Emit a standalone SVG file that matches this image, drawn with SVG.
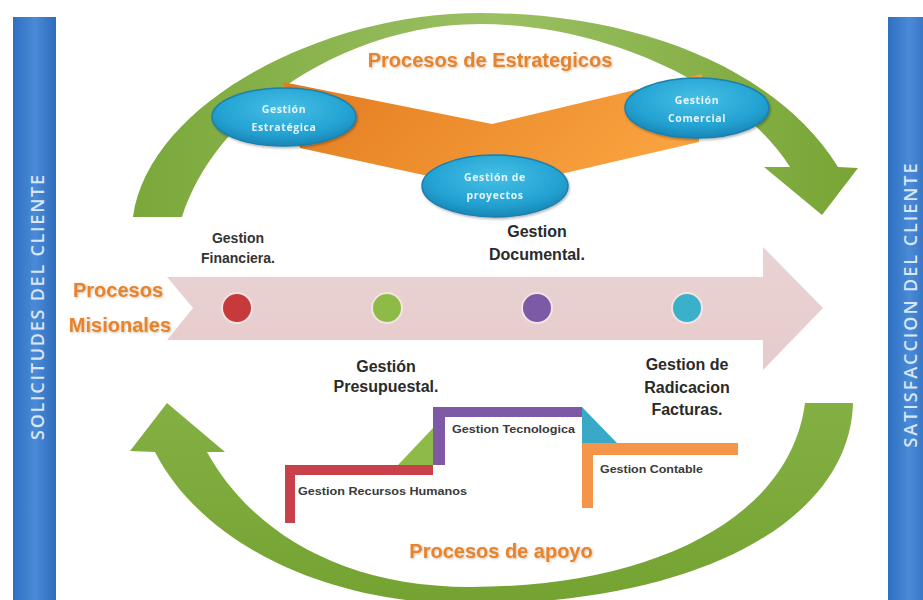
<svg xmlns="http://www.w3.org/2000/svg" width="923" height="600" viewBox="0 0 923 600">
  <defs>
    <linearGradient id="barGrad" x1="0" y1="0" x2="1" y2="0">
      <stop offset="0" stop-color="#2d6fc2"/>
      <stop offset="0.5" stop-color="#4a8ad6"/>
      <stop offset="1" stop-color="#2e6cbd"/>
    </linearGradient>
    <linearGradient id="greenTop" x1="0" y1="0" x2="1" y2="0">
      <stop offset="0" stop-color="#7aa83a"/>
      <stop offset="0.5" stop-color="#9bc063"/>
      <stop offset="1" stop-color="#78a535"/>
    </linearGradient>
    <linearGradient id="greenBottom" x1="0" y1="0" x2="0" y2="1">
      <stop offset="0" stop-color="#84b043"/>
      <stop offset="1" stop-color="#74a332"/>
    </linearGradient>
    <linearGradient id="orangeGrad" x1="0" y1="0" x2="1" y2="0.3">
      <stop offset="0" stop-color="#e27a1f"/>
      <stop offset="1" stop-color="#f9a23e"/>
    </linearGradient>
    <linearGradient id="pinkGrad" x1="0" y1="0" x2="0" y2="1">
      <stop offset="0" stop-color="#ead2d3"/>
      <stop offset="1" stop-color="#e6cbcc"/>
    </linearGradient>
    <radialGradient id="ellGrad" cx="0.5" cy="0.35" r="0.65">
      <stop offset="0" stop-color="#45c0e6"/>
      <stop offset="0.7" stop-color="#23a2d2"/>
      <stop offset="1" stop-color="#1a86b6"/>
    </radialGradient>
    <filter id="soft" x="-10%" y="-10%" width="120%" height="130%">
      <feDropShadow dx="1" dy="1.5" stdDeviation="1.2" flood-color="#000" flood-opacity="0.3"/>
    </filter>
    <filter id="txtShadow" x="-5%" y="-20%" width="110%" height="150%">
      <feDropShadow dx="1" dy="1" stdDeviation="0.8" flood-color="#7a4a1a" flood-opacity="0.35"/>
    </filter>
  </defs>
  <style>
    .bar { fill: url(#barGrad); }
    .side { font-family: "Open Sans", "DejaVu Sans", sans-serif; font-size: 18px; font-weight: 600; fill: #d8e6f8; text-anchor: middle; }
    .title { font-family: "Liberation Sans", Arial, sans-serif; font-size: 20px; font-weight: bold; fill: #e8832c; text-anchor: middle; }
    .ell { fill: url(#ellGrad); stroke: #1b7fae; stroke-width: 1.5; }
    .ellTxt { font-family: "Open Sans", "DejaVu Sans", sans-serif; font-size: 10.5px; font-weight: bold; fill: #e6f4fb; text-anchor: middle; letter-spacing: 0.6px; }
    .lbl { font-family: "Liberation Sans", Arial, sans-serif; font-size: 16px; font-weight: bold; fill: #2a2a2a; text-anchor: middle; }
    .lblS { font-family: "Liberation Sans", Arial, sans-serif; font-size: 14px; font-weight: bold; fill: #333; text-anchor: middle; }
    .step { font-family: "Liberation Sans", Arial, sans-serif; font-size: 10.5px; font-weight: bold; fill: #3a3a3a; }
    .dot { stroke: #f4e4e4; stroke-width: 2; }
  </style>

  <rect width="923" height="600" fill="#ffffff"/>

  <!-- side bars -->
  <g id="solicitudes">
    <rect class="bar" x="13" y="17" width="43" height="583"/>
    <text class="side" transform="translate(43.5,307.5) rotate(-90)" textLength="265" lengthAdjust="spacing">SOLICITUDES DEL CLIENTE</text>
  </g>
  <g id="satisfaccion">
    <rect class="bar" x="888" y="17" width="43" height="583"/>
    <text class="side" transform="translate(916.5,305.5) rotate(-90)" textLength="284" lengthAdjust="spacing">SATISFACCION  DEL CLIENTE</text>
  </g>

  <!-- connectors: the two cycle arrows -->
  <g id="connectors">
    <path fill="url(#greenTop)" d="M133 217 C148 105 320 13 480 13 C630 13 775 65 838 167 L858 168 L822 215 L764 167 L790 167 C738 85 605 24 480 24 C345 24 215 112 182 217 Z"/>
    <path fill="url(#greenBottom)" d="M853 403 C850 520 700 604 470 604 C320 604 200 540 155 452 L130 451 L167 403 L225 452 L207 452 C250 530 340 587 470 587 C650 587 790 520 805 403 Z"/>
  </g>

  <!-- strategic processes -->
  <g id="estrategicos">
    <polygon fill="url(#orangeGrad)" points="283,82 492,124 702,74 699,142 492,190 300,148"/>
    <text class="title" x="490" y="67" filter="url(#txtShadow)">Procesos de Estrategicos</text>
  </g>
  <g id="gestion-estrategica" filter="url(#soft)">
    <ellipse class="ell" cx="284" cy="117" rx="72" ry="29"/>
    <text class="ellTxt" x="284" y="113">Gestión</text>
    <text class="ellTxt" x="284" y="131">Estratégica</text>
  </g>
  <g id="gestion-comercial" filter="url(#soft)">
    <ellipse class="ell" cx="697" cy="108" rx="72" ry="30"/>
    <text class="ellTxt" x="697" y="104">Gestión</text>
    <text class="ellTxt" x="697" y="122">Comercial</text>
  </g>
  <g id="gestion-proyectos" filter="url(#soft)">
    <ellipse class="ell" cx="495" cy="186" rx="73" ry="31"/>
    <text class="ellTxt" x="495" y="181">Gestión de</text>
    <text class="ellTxt" x="495" y="199">proyectos</text>
  </g>

  <!-- mission processes -->
  <g id="misionales">
    <polygon fill="url(#pinkGrad)" points="167,277 763,277 763,247 823,308 763,370 763,340 167,340 193,308"/>
    <text class="title" x="118" y="297" filter="url(#txtShadow)">Procesos</text>
    <text class="title" x="120" y="332" filter="url(#txtShadow)">Misionales</text>
  </g>
  <g id="gestion-financiera">
    <circle class="dot" cx="237" cy="308" r="15" fill="#c63a3c"/>
    <text class="lblS" x="238" y="243">Gestion</text>
    <text class="lblS" x="238" y="263">Financiera.</text>
  </g>
  <g id="gestion-presupuestal">
    <circle class="dot" cx="387" cy="308" r="15" fill="#8ebb48"/>
    <text class="lbl" x="386" y="372">Gestión</text>
    <text class="lbl" x="386" y="392">Presupuestal.</text>
  </g>
  <g id="gestion-documental">
    <circle class="dot" cx="537" cy="308" r="15" fill="#7d5aa6"/>
    <text class="lbl" x="537" y="237">Gestion</text>
    <text class="lbl" x="537" y="260">Documental.</text>
  </g>
  <g id="gestion-radicacion">
    <circle class="dot" cx="687" cy="308" r="15" fill="#3bb0ca"/>
    <text class="lbl" x="687" y="370">Gestion de</text>
    <text class="lbl" x="687" y="393">Radicacion</text>
    <text class="lbl" x="687" y="415">Facturas.</text>
  </g>

  <!-- support processes -->
  <g id="apoyo">
    <text class="title" x="501" y="558" filter="url(#txtShadow)">Procesos de apoyo</text>
  </g>
  <g id="gestion-rrhh">
    <polygon fill="#8ebb48" points="398,465 433,428 433,465"/>
    <path fill="#c8404a" d="M285 465 H433 V475 H295 V523 H285 Z"/>
    <text class="step" x="298" y="495" textLength="169" lengthAdjust="spacingAndGlyphs">Gestion Recursos Humanos</text>
  </g>
  <g id="gestion-tecnologica">
    <polygon fill="#3aa9c8" points="582,407 617,443 582,443"/>
    <path fill="#7e5aa6" d="M433 407 H582 V417 H445 V465 H433 Z"/>
    <text class="step" x="452" y="433" textLength="123" lengthAdjust="spacingAndGlyphs">Gestion Tecnologica</text>
  </g>
  <g id="gestion-contable">
    <path fill="#f5954a" d="M582 443 H738 V455 H593 V508 H582 Z"/>
    <text class="step" x="600" y="473" textLength="103" lengthAdjust="spacingAndGlyphs">Gestion Contable</text>
  </g>
</svg>
